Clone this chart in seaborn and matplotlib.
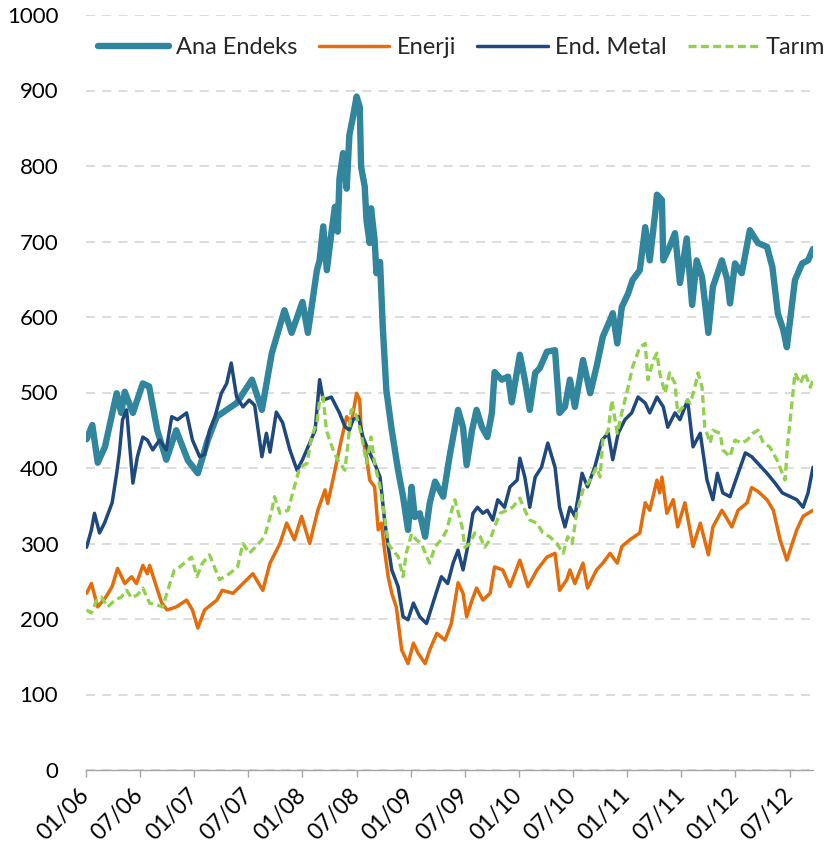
import matplotlib
matplotlib.use("Agg")
import matplotlib.pyplot as plt
import seaborn as sns

# x values are months since January 2006
ana_m = [0.06, 0.7, 1.3, 2.1, 3.4, 3.9, 4.3, 5.2, 6.3, 7.0, 7.9, 8.9, 10.0, 11.3, 12.4, 13.5, 14.5, 15.6,
         16.7, 18.4, 19.5, 20.6, 22.0, 22.8, 24.0, 24.6, 25.6, 25.9, 26.3, 26.7, 27.2, 27.6, 27.9, 28.1,
         28.5, 28.9, 29.2, 29.6, 30.0, 30.35, 30.5, 30.9, 31.1, 31.45, 31.6, 32.0, 32.2, 32.6, 32.9, 33.3,
         33.9, 34.6, 35.15, 35.7, 36.1, 36.45, 37.0, 37.6, 38.1, 38.7, 39.6, 40.3, 41.25, 41.8, 42.2, 42.8,
         43.3, 43.9, 44.5, 45.0, 45.3, 46.1, 46.8, 47.2, 48.1, 48.65, 49.2, 49.8, 50.3, 51.1, 52.0, 52.5,
         53.1, 53.65, 54.2, 55.1, 55.9, 56.6, 57.3, 58.1, 58.4, 58.9, 59.4, 60.1, 60.6, 61.4, 62.0, 62.5,
         63.1, 63.3, 63.85, 64.0, 64.7, 65.3, 65.85, 66.6, 67.2, 67.7, 68.3, 69.0, 69.5, 70.5, 71.1, 71.4,
         71.95, 72.7, 73.6, 74.5, 75.5, 76.1, 76.7, 77.3, 77.7, 78.1, 78.6, 79.4, 80.05, 80.6]
ana_v = [438, 457, 407, 428, 499, 473, 501, 473, 512, 508, 450, 411, 450, 410, 393, 437, 468, 477,
         486, 517, 477, 552, 609, 579, 620, 579, 662, 675, 720, 662, 711, 746, 713, 783,
         817, 770, 841, 865, 892, 878, 799, 773, 728, 698, 744, 702, 658, 673, 587, 503,
         450, 397, 362, 318, 375, 335, 340, 309, 353, 382, 362, 415, 477, 454, 404, 450,
         477, 454, 441, 473, 527, 517, 521, 487, 550, 517, 477, 526, 532, 554, 556, 473,
         481, 517, 481, 543, 499, 534, 574, 596, 605, 565, 613, 631, 649, 662, 719, 675,
         737, 762, 755, 675, 693, 711, 645, 704, 616, 675, 653, 579, 640, 675, 649, 618,
         671, 658, 715, 698, 693, 666, 605, 583, 560, 600, 649, 671, 675, 690]

ene_m = [0.06, 0.6, 1.3, 2.2, 2.9, 3.5, 4.3, 5.05, 5.6, 6.3, 6.8, 7.05, 7.8, 8.4, 9.0, 10.0, 11.15, 11.8,
         12.4, 13.15, 14.5, 15.1, 16.3, 17.4, 18.5, 19.6, 20.4, 21.5, 22.25, 23.1, 23.9, 24.8, 25.7, 26.5,
         26.8, 27.6, 28.3, 28.9, 29.4, 30.0, 30.35, 30.5, 31.1, 31.45, 32.0, 32.4, 32.75, 33.1, 33.5, 33.9,
         34.4, 35.0, 35.7, 36.3, 36.8, 37.6, 38.1, 38.9, 39.8, 40.5, 41.25, 41.8, 42.2, 42.8, 43.3, 44.0,
         44.8, 45.3, 46.2, 47.0, 48.1, 49.0, 50.0, 51.1, 52.0, 52.5, 53.3, 53.65, 54.2, 55.1, 55.6, 56.6,
         57.3, 58.1, 58.9, 59.4, 60.3, 61.4, 62.0, 62.5, 63.3, 63.6, 63.85, 64.4, 65.1, 65.6, 66.4, 67.3,
         68.1, 69.0, 69.5, 70.5, 71.6, 72.3, 73.3, 73.8, 74.5, 75.5, 76.2, 76.95, 77.7, 78.3, 78.8, 79.5,
         80.6]
ene_v = [234, 247, 216, 229, 243, 267, 247, 256, 247, 271, 260, 271, 243, 221, 212, 216, 225, 212,
         188, 212, 225, 238, 234, 247, 260, 238, 274, 300, 327, 305, 336, 300, 344, 371,
         353, 397, 437, 468, 459, 499, 490, 450, 415, 384, 375, 318, 327, 291, 256, 234,
         216, 159, 141, 168, 155, 141, 159, 181, 172, 194, 248, 234, 203, 225, 241, 225,
         234, 269, 265, 243, 278, 243, 265, 282, 287, 238, 252, 265, 247, 274, 241, 265,
         274, 287, 274, 296, 305, 314, 354, 344, 384, 367, 388, 340, 358, 322, 354, 296,
         327, 285, 322, 344, 322, 344, 354, 374, 369, 358, 344, 305, 278, 300, 318, 336,
         344]

met_m = [0.06, 0.6, 0.94, 1.5, 2.05, 2.9, 3.4, 3.7, 4.05, 4.5, 5.2, 5.7, 6.3, 6.8, 7.4, 8.15, 8.9, 9.5,
         10.15, 11.15, 11.8, 12.6, 13.15, 13.7, 14.3, 15.0, 15.6, 16.1, 16.7, 17.4, 18.1, 18.7, 19.5, 20.0,
         20.4, 21.1, 21.8, 22.6, 23.4, 24.0, 24.8, 25.4, 25.9, 26.3, 27.2, 28.1, 28.7, 29.2, 29.6, 30.2,
         30.7, 31.3, 32.0, 32.6, 33.1, 33.5, 33.9, 34.6, 35.15, 35.7, 36.3, 37.0, 37.75, 38.7, 39.4, 40.1,
         40.7, 41.25, 41.8, 42.3, 42.9, 43.4, 44.0, 44.5, 45.1, 45.65, 46.4, 47.0, 47.8, 48.1, 48.65, 49.2,
         49.8, 50.5, 51.2, 52.0, 52.5, 53.1, 53.65, 54.2, 55.0, 55.6, 56.4, 57.2, 57.9, 58.4, 59.0, 59.75,
         60.5, 61.2, 62.0, 62.5, 63.3, 64.0, 64.5, 65.3, 65.85, 66.7, 67.3, 68.1, 68.85, 69.5, 70.0, 70.6,
         71.4, 72.3, 73.1, 73.8, 74.5, 75.5, 76.4, 77.2, 78.1, 78.8, 79.5, 80.05, 80.6]
met_v = [295, 318, 340, 314, 327, 354, 393, 420, 464, 477, 380, 415, 441, 437, 424, 437, 424, 468,
         464, 473, 437, 415, 418, 450, 468, 499, 512, 539, 494, 481, 490, 483, 415, 446,
         421, 474, 460, 424, 397, 411, 433, 450, 517, 490, 494, 473, 455, 450, 464, 468,
         441, 424, 406, 388, 331, 296, 265, 243, 203, 199, 221, 203, 194, 230, 256, 247,
         274, 291, 265, 295, 340, 348, 340, 344, 331, 358, 348, 375, 384, 413, 388, 348,
         388, 401, 433, 401, 348, 322, 348, 336, 393, 375, 401, 437, 446, 411, 446, 464,
         473, 494, 486, 473, 494, 481, 454, 473, 464, 490, 428, 446, 384, 358, 393, 367,
         362, 393, 420, 415, 406, 393, 380, 367, 362, 358, 348, 367, 401]

tar_m = [0.06, 0.6, 1.2, 1.7, 2.4, 3.2, 3.9, 4.5, 5.05, 5.7, 6.3, 7.05, 7.8, 8.5, 9.3, 9.8, 10.4, 10.9,
         11.7, 12.3, 12.9, 13.7, 14.8, 15.9, 16.8, 17.4, 18.1, 19.0, 19.8, 20.6, 20.9, 21.5, 22.4, 23.1,
         23.7, 24.5, 25.0, 25.6, 25.9, 26.3, 26.65, 27.0, 27.4, 27.9, 28.7, 29.05, 29.4, 29.8, 30.5, 31.1,
         31.6, 32.0, 32.6, 33.1, 33.5, 34.0, 34.6, 35.15, 35.5, 36.1, 36.6, 37.2, 37.75, 38.1, 38.7, 39.4,
         40.0, 40.55, 40.9, 41.2, 41.7, 42.0, 42.55, 43.1, 43.7, 44.2, 44.8, 45.3, 45.9, 46.65, 47.3, 48.1,
         48.65, 49.2, 50.0, 50.65, 51.4, 52.2, 52.9, 53.4, 53.9, 54.4, 55.1, 55.9, 56.6, 57.0, 57.3, 57.9,
         58.3, 58.9, 59.4, 60.1, 60.6, 61.4, 62.0, 62.3, 62.9, 63.3, 63.6, 64.2, 64.7, 65.3, 65.6, 66.2,
         66.7, 67.0, 67.5, 67.85, 68.3, 68.6, 69.2, 69.5, 70.3, 70.6, 71.4, 71.95, 72.7, 73.3, 73.95, 74.5,
         75.1, 75.8, 76.6, 77.2, 77.5, 77.8, 78.3, 78.6, 79.2, 79.7, 80.3, 80.6]
tar_v = [212, 208, 225, 229, 216, 225, 229, 238, 228, 232, 241, 221, 219, 216, 247, 265, 269, 274,
         282, 256, 274, 285, 252, 260, 269, 300, 287, 298, 309, 344, 362, 340, 344, 375,
         401, 406, 441, 460, 490, 494, 450, 437, 424, 411, 397, 433, 477, 477, 446, 406,
         441, 406, 375, 335, 300, 291, 283, 256, 287, 313, 305, 300, 283, 274, 296, 305,
         318, 344, 358, 344, 322, 295, 300, 314, 309, 295, 305, 322, 340, 344, 348, 360,
         344, 331, 327, 314, 309, 300, 287, 309, 300, 340, 371, 384, 401, 388, 437, 450,
         490, 446, 473, 507, 534, 560, 565, 517, 543, 552, 526, 499, 526, 512, 473, 481,
         490, 486, 507, 526, 507, 454, 433, 450, 446, 424, 415, 437, 433, 437, 446, 450,
         433, 428, 411, 393, 384, 433, 490, 526, 512, 526, 507, 517]

tick_months = list(range(0, 79, 6))
tick_labels = ['01/06', '07/06', '01/07', '07/07', '01/08', '07/08', '01/09',
               '07/09', '01/10', '07/10', '01/11', '07/11', '01/12', '07/12']

series = [
    ('Ana Endeks', ana_m, ana_v, '#31859C', 4.6, None),
    ('Enerji', ene_m, ene_v, '#E46C0A', 2.5, None),
    ('End. Metal', met_m, met_v, '#1F497D', 2.5, None),
    ('Tarım', tar_m, tar_v, '#92D050', 2.4, (2.4, 1.3)),
]

sns.set_style("white")
plt.rcParams['font.family'] = ['Lato', 'DejaVu Sans']

fig = plt.figure(figsize=(8.31, 8.57), dpi=100)
ax = fig.add_axes([86 / 831, 1 - 770 / 857, 727 / 831, 755 / 857])

for name, xs, ys, color, lw, dash in series:
    sns.lineplot(x=xs, y=ys, ax=ax, color=color, linewidth=lw, label=name,
                 estimator=None, sort=False)
    if dash is not None:
        ax.lines[-1].set_dashes(dash)

ax.set_xlim(0, 80.6)
ax.set_ylim(0, 1000)
ax.set_yticks(range(0, 1001, 100))
ax.set_xticks(tick_months)
ax.set_xticklabels(tick_labels, rotation=45, ha='right', va='center', rotation_mode='anchor')

ax.yaxis.grid(True, color='#D9D9D9', linestyle=(0, (5, 4)), linewidth=1.3)
ax.set_axisbelow(True)
for side in ['left', 'top', 'right']:
    ax.spines[side].set_visible(False)
ax.spines['bottom'].set_color('#A6A6A6')
ax.spines['bottom'].set_linewidth(1.0)

ax.tick_params(axis='x', direction='out', length=5, color='#A6A6A6', width=1,
               labelsize=16.5, labelcolor='black', pad=11, bottom=True)
ax.tick_params(axis='y', length=0, labelsize=16, labelcolor='black', pad=20)
ax.set_xlabel('')
ax.set_ylabel('')

ax.legend(loc='center left', bbox_to_anchor=(98 / 831, 1 - 48 / 857),
          bbox_transform=fig.transFigure, ncol=4, frameon=False, fontsize=17,
          handlelength=3.0, handletextpad=0.3, columnspacing=0.9,
          borderpad=0, borderaxespad=0)

fig.savefig('out.png', dpi=100)
